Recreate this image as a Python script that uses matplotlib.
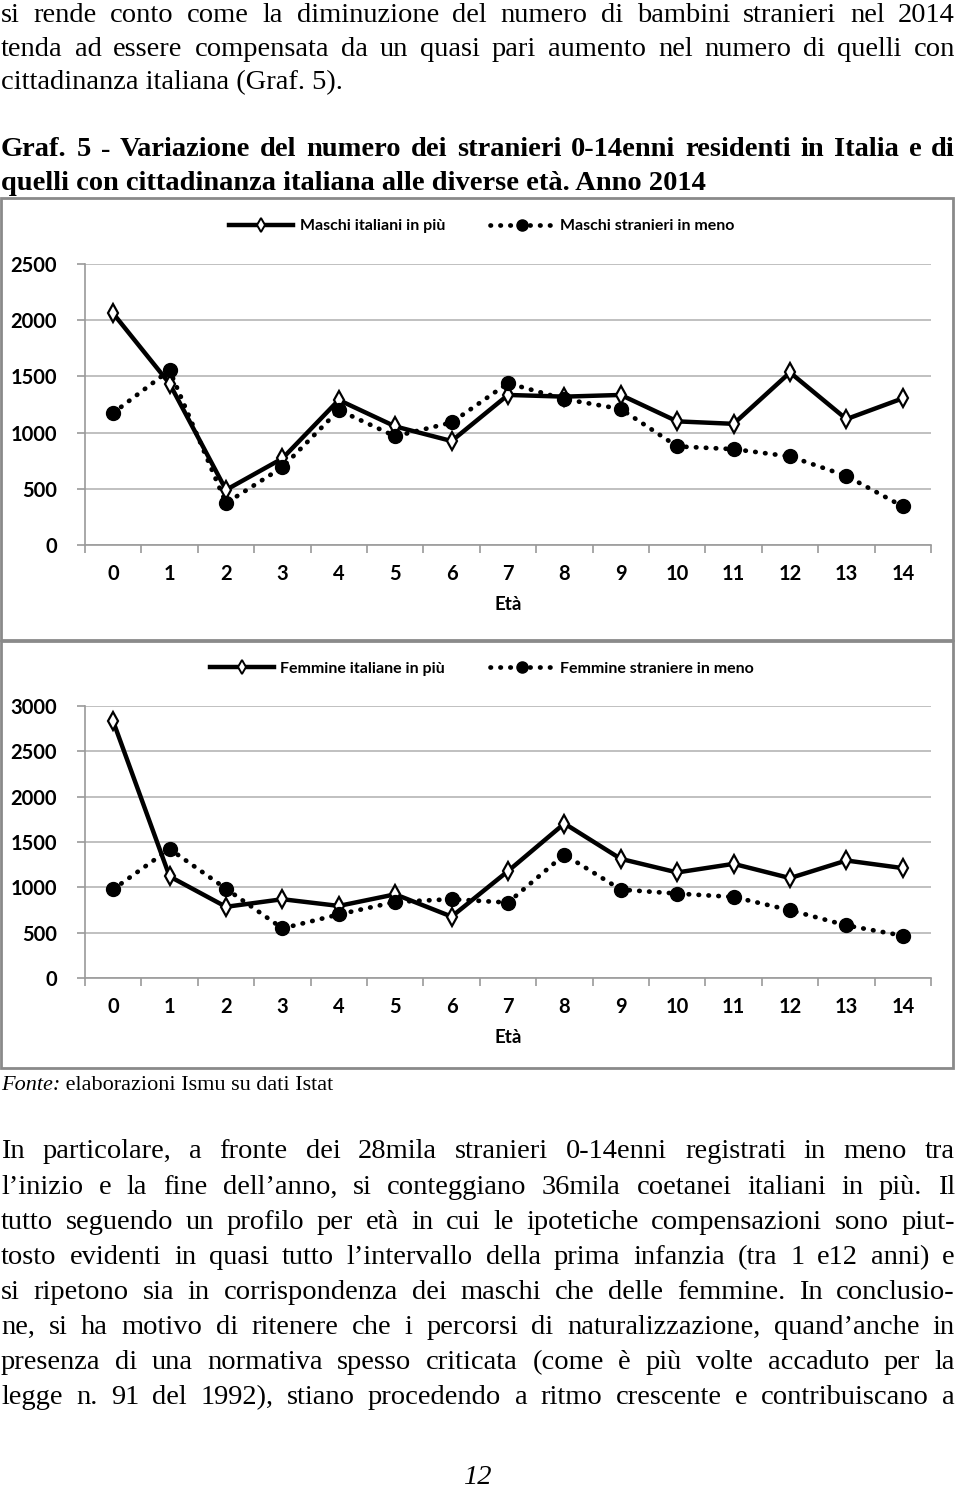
import matplotlib
matplotlib.use("Agg")
import matplotlib.pyplot as plt
from matplotlib.lines import Line2D
from matplotlib.patches import Rectangle

# dati
eta = list(range(15))
eta_labels = [str(e) for e in eta]
maschi_italiani = [2060, 1435, 490, 770, 1290, 1055, 925, 1335, 1320, 1335, 1100, 1078, 1535, 1120, 1305]
maschi_stranieri = [1175, 1555, 372, 692, 1200, 967, 1090, 1440, 1298, 1210, 877, 853, 788, 615, 343]
femmine_italiane = [2830, 1120, 785, 869, 795, 923, 677, 1179, 1704, 1314, 1164, 1259, 1102, 1296, 1212]
femmine_straniere = [978, 1423, 985, 547, 701, 839, 869, 832, 1361, 975, 931, 894, 748, 580, 467]

testo_sopra = [
    "si rende conto come la diminuzione del numero di bambini stranieri nel 2014",
    "tenda ad essere compensata da un quasi pari aumento nel numero di quelli con",
    "cittadinanza italiana (Graf. 5).",
]
titolo = [
    "Graf. 5 - Variazione del numero dei stranieri 0-14enni residenti in Italia e di",
    "quelli con cittadinanza italiana alle diverse età. Anno 2014",
]
testo_sotto = [
    "In particolare, a fronte dei 28mila stranieri 0-14enni registrati in meno tra",
    "l’inizio e la fine dell’anno, si conteggiano 36mila coetanei italiani in più. Il",
    "tutto seguendo un profilo per età in cui le ipotetiche compensazioni sono piut-",
    "tosto evidenti in quasi tutto l’intervallo della prima infanzia (tra 1 e12 anni) e",
    "si ripetono sia in corrispondenza dei maschi che delle femmine. In conclusio-",
    "ne, si ha motivo di ritenere che i percorsi di naturalizzazione, quand’anche in",
    "presenza di una normativa spesso criticata (come è più volte accaduto per la",
    "legge n. 91 del 1992), stiano procedendo a ritmo crescente e contribuiscano a",
]

W, H = 960, 1490
fig = plt.figure(figsize=(W / 100, H / 100), dpi=100)
renderer = fig.canvas.get_renderer()

SERIF = "Liberation Serif"
CHART_FONT = "Lato"
FS = 20.5


def fx(x):
    return x / W


def fy(y):
    return 1 - y / H


def riga(testo, y, giustifica=True, x0=1, x1=955, **kw):
    # scrive una riga, giustificata parola per parola
    parole = testo.split(" ")
    if not giustifica or len(parole) < 2:
        fig.text(fx(x0), fy(y), testo, va="center", ha="left", family=SERIF, **kw)
        return
    oggetti = [fig.text(0, fy(y), p, va="center", ha="left", family=SERIF, **kw) for p in parole]
    larg = [o.get_window_extent(renderer).width for o in oggetti]
    spazio = (x1 - x0 - sum(larg)) / (len(parole) - 1)
    x = x0
    for o, w in zip(oggetti, larg):
        o.set_x(fx(x))
        x += w + spazio


# testo sopra
for i, t in enumerate(testo_sopra):
    riga(t, 15 + i * 34, giustifica=(i < 2), fontsize=FS)

# titolo del grafico
riga(titolo[0], 150, fontsize=FS, fontweight="bold")
riga(titolo[1], 183, giustifica=False, fontsize=FS, fontweight="bold")

# cornici
for y0, y1 in [(198, 640), (641, 1068)]:
    fig.add_artist(Rectangle((fx(1), fy(y1)), fx(952), (y1 - y0) / H, transform=fig.transFigure,
                             fill=False, edgecolor="#8a8a8a", linewidth=2))


def grafico(top, bottom, ymax, ita, stra, lab_ita, lab_stra, leg_y):
    ax = fig.add_axes([fx(85), fy(bottom), fx(931 - 85), (bottom - top) / H])
    ax.plot(eta, ita, color="black", linewidth=3.2, marker="d", markersize=9,
            markerfacecolor="white", markeredgecolor="black", markeredgewidth=1.6, zorder=3)
    ax.plot(eta, stra, color="black", linewidth=3.4, linestyle=(0, (0.1, 2.0)),
            dash_capstyle="round", marker="o", markersize=10, zorder=4)
    ax.set_xlim(-0.5, 14.5)
    ax.set_ylim(0, ymax)
    ax.set_yticks(range(0, ymax + 1, 500))
    ax.set_xticks(eta)
    ax.set_xticklabels(eta_labels)
    ax.set_xticks([e - 0.5 for e in eta] + [14.5], minor=True)
    ax.grid(axis="y", color="#b5b5b5", linewidth=1.2)
    ax.set_axisbelow(True)
    for s in ["top", "right"]:
        ax.spines[s].set_visible(False)
    for s in ["left", "bottom"]:
        ax.spines[s].set_color("#9a9a9a")
        ax.spines[s].set_linewidth(1.2)
    ax.tick_params(axis="x", which="major", length=0, pad=14)
    ax.tick_params(axis="x", which="minor", length=6, color="#9a9a9a", width=1.2)
    ax.tick_params(axis="y", length=6, color="#9a9a9a", width=1.2, pad=14)
    for lab in ax.get_xticklabels() + ax.get_yticklabels():
        lab.set_family(CHART_FONT)
        lab.set_fontweight("bold")
        lab.set_fontsize(14.5)
    ax.set_xlabel("Età", family=CHART_FONT, fontweight="bold", fontsize=13.5, labelpad=8)
    handles = [
        Line2D([], [], color="black", linewidth=3.2, marker="d", markersize=7,
               markerfacecolor="white", markeredgewidth=1.4),
        Line2D([], [], color="black", linewidth=3.4, linestyle=(0, (0.1, 2.0)),
               dash_capstyle="round", marker="o", markersize=8),
    ]
    fig.legend(handles, [lab_ita, lab_stra], loc="center", bbox_to_anchor=(fx(482), fy(leg_y)),
               ncol=2, frameon=False, handlelength=4.0, columnspacing=2.8, handletextpad=0.4,
               prop={"family": CHART_FONT, "weight": "bold", "size": 11.5})
    return ax


grafico(264, 545, 2500, maschi_italiani, maschi_stranieri,
        "Maschi italiani in più", "Maschi stranieri in meno", 226)
grafico(706, 978, 3000, femmine_italiane, femmine_straniere,
        "Femmine italiane in più", "Femmine straniere in meno", 669)

# fonte
t1 = fig.text(fx(1), fy(1085), "Fonte:", family=SERIF, style="italic", fontsize=16, va="center")
w1 = t1.get_window_extent(renderer).width
fig.text(fx(1 + w1), fy(1085), " elaborazioni Ismu su dati Istat", family=SERIF, fontsize=16, va="center")

# testo sotto
for i, t in enumerate(testo_sotto):
    riga(t, 1152 + i * 35.1, fontsize=FS)

# numero di pagina
fig.text(fx(478), fy(1478), "12", family=SERIF, style="italic", fontsize=FS, ha="center", va="center")

fig.savefig("out.png", dpi=100)
